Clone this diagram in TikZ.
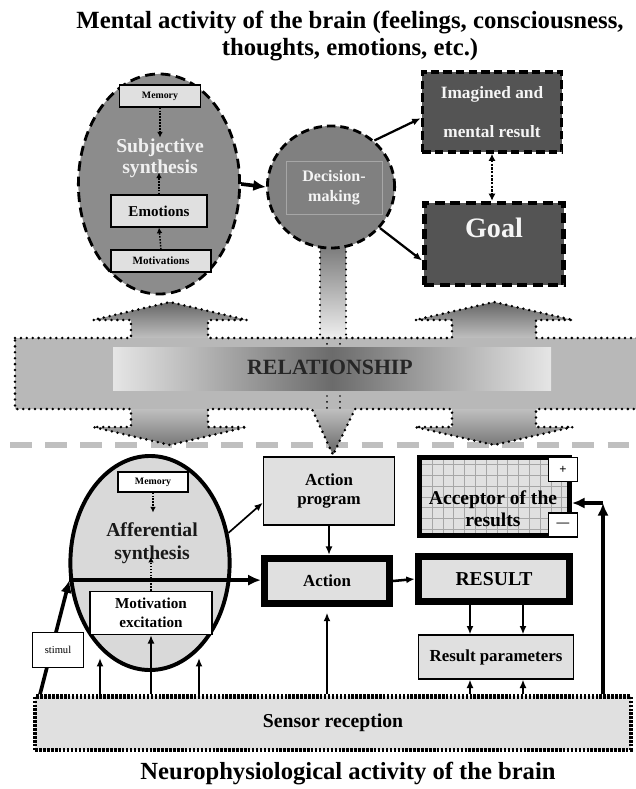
\documentclass[tikz,border=0pt]{standalone}
\usepackage{fontspec}
\setmainfont{Liberation Serif}
\usepackage{tikz}
\usetikzlibrary{shapes.geometric,arrows.meta}

\def\bandpath{(15,338) -- (131,338) -- (131,320) -- (93,320) -- (170,302) -- (247,320) -- (208,320) -- (208,338)
  -- (452,338) -- (452,320) -- (415,320) -- (494,302) -- (573,320) -- (536,320) -- (536,338) -- (650,338)
  -- (650,409) -- (536,409) -- (536,427) -- (573,427) -- (494,445) -- (415,427) -- (452,427) -- (452,409)
  -- (355,409) -- (333,455) -- (312,409) -- (208,409) -- (208,427) -- (247,427) -- (170,445) -- (93,427)
  -- (131,427) -- (131,409) -- (15,409) -- cycle}

\begin{document}
\begin{tikzpicture}[x=0.025cm, y=-0.025cm, every node/.style={font=\bfseries, inner sep=0pt},
  graybox/.style={draw, fill=black!12, line width=0.8pt},
  whitebox/.style={draw, fill=white, line width=0.8pt},
  dotarrow/.style={-{Latex[length=4pt,width=4pt]}, densely dotted, line width=1.1pt},
  bigarrow/.style={-{Latex[length=9pt,width=8pt]}, line width=2.6pt},
  thinarrow/.style={-{Latex[length=6pt,width=5pt]}, line width=1.2pt},
  bandline/.style={line width=2pt, line cap=round, dash pattern=on 0pt off 4.2pt}]

\useasboundingbox (0,0) rectangle (636,789);

% Titles
\node[font=\bfseries\fontsize{17.6}{19.2}\selectfont, align=center] (toptitle) at (350,36) {Mental activity of the brain (feelings, consciousness,\\thoughts, emotions, etc.)};
\node[font=\bfseries\fontsize{17.5}{19}\selectfont] (bottitle) at (348,774) {Neurophysiological activity of the brain};

% Border between the two levels
\draw[black!25, line width=3.6pt, dash pattern=on 15.5pt off 9.5pt] (10,445) -- (636,445);

% Bar from decision-making down into the band
\shade[top color=black!55, bottom color=black!6] (320,240) rectangle (346,338);
\draw[bandline, line width=1.5pt] (320,240) -- (320,338) (346,240) -- (346,338);

% Relationship band with its arrows
\begin{scope}
  \clip \bandpath;
  \shade[top color=black!62, bottom color=black!25] (0,300) rectangle (640,338);
  \shade[top color=black!28, middle color=black!7, bottom color=black!28] (0,338) rectangle (640,409);
  \shade[top color=black!25, bottom color=black!62] (0,409) rectangle (640,457);
\end{scope}
\draw[bandline] \bandpath;
\draw[bandline, line width=1.4pt] (327,338) -- (327,350) (340,338) -- (340,350) (327,396) -- (327,409) (340,396) -- (340,409);
\shade[left color=black!10, right color=black!10, middle color=black!58] (113,347) rectangle (551,390);
\node[font=\bfseries\fontsize{15.5}{17}\selectfont, text=black!85] (rel) at (330,367) {RELATIONSHIP};

% Subjective synthesis
\node[ellipse, draw, fill=black!45, line width=2pt, dash pattern=on 7pt off 4pt, minimum width=4.03cm, minimum height=5.5cm] (subj) at (159,184) {};
\node[graybox, minimum width=2.03cm, minimum height=0.55cm, font=\bfseries\fontsize{7}{8}\selectfont] (memtop) at (160,96) {Memory};
\node[text=black!6, align=center, font=\bfseries\fontsize{14}{15}\selectfont] (subjtext) at (160,158) {Subjective\\synthesis};
\node[graybox, minimum width=2.4cm, minimum height=0.8cm, font=\bfseries\fontsize{10.7}{12}\selectfont] (emo) at (159,211) {Emotions};
\node[graybox, minimum width=2.5cm, minimum height=0.55cm, font=\bfseries\fontsize{7.9}{9}\selectfont] (motiv) at (161,261) {Motivations};
\draw[dotarrow] (memtop.south) -- ++(0,30);
\draw[dotarrow] (emo.north) -- ++(0,-22);
\draw[dotarrow] (motiv.north) -- (emo.south);

% Decision-making
\node[ellipse, draw, fill=black!50, line width=2pt, dash pattern=on 6pt off 3.5pt, minimum width=3.18cm, minimum height=3.05cm] (dec) at (331,187) {};
\node[draw=black!35, line width=0.4pt, minimum width=2.4cm, minimum height=1.33cm, text=black!4, align=center, font=\bfseries\fontsize{11.4}{14}\selectfont] (dectext) at (334,188) {Decision-\\making};
\draw[bigarrow] (subj.east) -- (dec.west);

% Imagined result and goal
\node[draw, fill=black!67, line width=2.5pt, dash pattern=on 6pt off 3pt, minimum width=3.48cm, minimum height=2cm, text=black!4, align=center, font=\bfseries\fontsize{12.3}{27.7}\selectfont] (imag) at (492,112) {Imagined and\\mental result};
\node[draw, fill=black!67, line width=3.2pt, dash pattern=on 7pt off 4pt, minimum width=3.48cm, minimum height=2.05cm] (goal) at (494,244) {};
\node[text=black!4, font=\bfseries\fontsize{20}{22}\selectfont] (goaltext) at (494,228) {Goal};
\draw[thinarrow, line width=1.6pt] (dec.47) -- (imag.185);
\draw[thinarrow, line width=1.6pt] (dec.-40) -- (goal.193);
\draw[{Latex[length=5pt,width=5pt]}-{Latex[length=5pt,width=5pt]}, densely dotted, line width=1.6pt] (imag.south) -- (imag.south |- goal.north);

% Afferential synthesis
\node[ellipse, draw, fill=black!15, line width=2.8pt, minimum width=3.98cm, minimum height=5.35cm] (aff) at (150,563) {};
\node[whitebox, minimum width=1.75cm, minimum height=0.5cm, font=\bfseries\fontsize{7}{8}\selectfont] (membot) at (153,482) {Memory};
\node[align=center, text=black!90, font=\bfseries\fontsize{14}{16}\selectfont] (afftext) at (152,543) {Afferential\\synthesis};
\node[whitebox, minimum width=3.05cm, minimum height=1.08cm, align=center, font=\bfseries\fontsize{10.8}{13.5}\selectfont] (motex) at (151,613) {Motivation\\excitation};
\draw[dotarrow] (membot.south) -- ++(0,20);
\draw[dotarrow] (motex.north) -- ++(0,-34);

% Action program, action, result
\node[graybox, minimum width=3.28cm, minimum height=1.7cm, align=center, font=\bfseries\fontsize{12}{13}\selectfont] (prog) at (329,491) {Action\\program};
\node[draw, fill=black!12, line width=5pt, minimum width=3.13cm, minimum height=1.13cm, font=\bfseries\fontsize{12}{13}\selectfont] (act) at (327,581) {Action};
\node[draw, fill=black!12, line width=5.2pt, minimum width=3.78cm, minimum height=1.12cm, font=\bfseries\fontsize{14}{15}\selectfont] (res) at (494,579) {RESULT};
\node[graybox, minimum width=3.88cm, minimum height=1.1cm, font=\bfseries\fontsize{12}{13}\selectfont] (rpar) at (496,657) {Result parameters};

% Acceptor of the results
\fill[black!12] (420,458) rectangle (569,535);
\draw[black!35, line width=0.4pt, step=0.27cm] (420,458) grid (569,535);
\node[draw, line width=3.5pt, minimum width=3.75cm, minimum height=1.95cm] (acc) at (494.5,496.5) {};
\node[align=center, font=\bfseries\fontsize{13.9}{15.6}\selectfont] (acctext) at (493,509) {Acceptor of the\\results};
\node[whitebox, minimum width=0.73cm, minimum height=0.58cm, font=\bfseries\fontsize{9}{10}\selectfont] (plus) at (563,469.5) {+};
\node[whitebox, minimum width=0.73cm, minimum height=0.6cm, font=\bfseries\fontsize{9}{10}\selectfont] (minus) at (563,525) {---};

% Sensor reception
\node[draw, fill=black!12, line width=3pt, dash pattern=on 1.8pt off 1pt, minimum width=14.88cm, minimum height=1.33cm, font=\bfseries\fontsize{14}{15}\selectfont] (sensor) at (333,723) {Sensor reception};

% Connections
\coordinate (affl) at (100,658);
\coordinate (affr) at (199,658);
\coordinate (turn) at (603,503);
\draw[bigarrow] (aff.192) -- (aff.192 -| act.west);
\draw[thinarrow] (aff.21) -- (prog.190);
\draw[thinarrow, line width=1.8pt] (prog.south) -- (prog.south |- act.north);
\draw[thinarrow, line width=1.8pt] (act.east) -- (res.west);
\draw[thinarrow] (sensor.north -| act.south) -- ([yshift=-4pt]act.south);
\foreach \x in {470,523} {
  \draw[thinarrow] (res.south -| \x,0) -- (rpar.north -| \x,0);
  \draw[thinarrow] (sensor.north -| \x,0) -- (rpar.south -| \x,0);
}
\draw[bigarrow, line width=2.2pt] (sensor.north -| turn) -- (turn);
\draw[bigarrow, line width=2.2pt] (turn) -- (turn -| acc.east);
\draw[thinarrow] (sensor.north -| affl) -- (affl);
\draw[thinarrow, line width=1.8pt] (sensor.north -| motex.south) -- (motex.south);
\draw[thinarrow] (sensor.north -| affr) -- (affr);
\draw[bigarrow] (40,0 |- sensor.north) -- (aff.192);
\node[whitebox, minimum width=1.28cm, minimum height=0.88cm, font=\mdseries\fontsize{7.5}{8}\selectfont] (stim) at (58,650) {stimul};

\end{tikzpicture}
\end{document}
